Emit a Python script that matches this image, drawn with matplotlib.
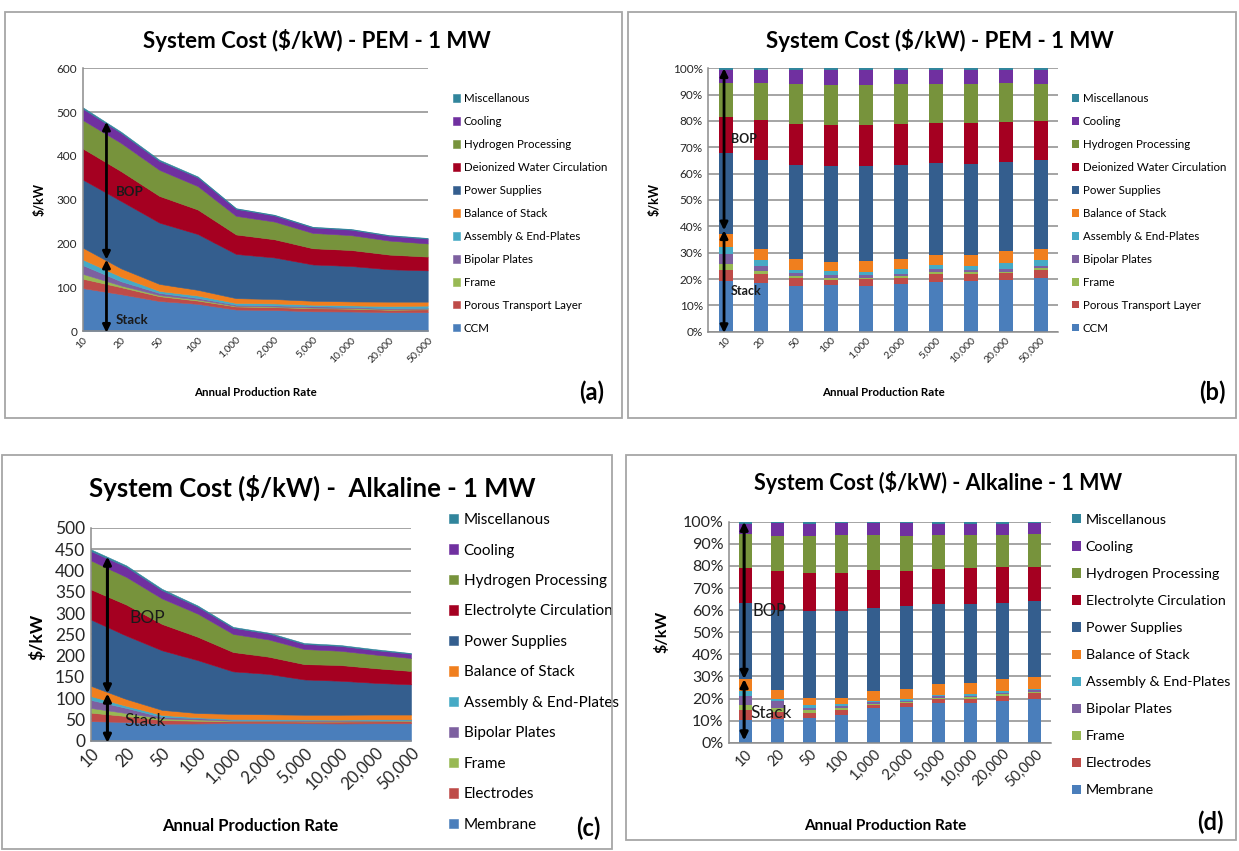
import matplotlib.pyplot as plt
import numpy as np
from matplotlib.patches import Rectangle

plt.rcParams['font.family'] = ['Lato', 'DejaVu Sans']

rates = ['10', '20', '50', '100', '1,000', '2,000', '5,000', '10,000', '20,000', '50,000']

pem_names = ['CCM', 'Porous Transport Layer', 'Frame', 'Bipolar Plates',
             'Assembly & End-Plates', 'Balance of Stack', 'Power Supplies',
             'Deionized Water Circulation', 'Hydrogen Processing', 'Cooling',
             'Miscellanous']
alk_names = ['Membrane', 'Electrodes', 'Frame', 'Bipolar Plates',
             'Assembly & End-Plates', 'Balance of Stack', 'Power Supplies',
             'Electrolyte Circulation', 'Hydrogen Processing', 'Cooling',
             'Miscellanous']

# PEM 1 MW, $/kW per component
pem_ccm = [98, 84, 68.5, 62, 49, 48, 45, 44.5, 43, 43]
pem_ptl = [21.5, 16, 11, 7.5, 7, 6.5, 7, 6.5, 5.5, 6.5]
pem_frame = [11, 4, 2.5, 2.5, 1.5, 1.5, 1.5, 1.5, 1.5, 1.5]
pem_bipolar = [20, 9.5, 5, 3.5, 2.5, 2.5, 3, 2.5, 2, 2]
pem_assembly = [13, 10.5, 4.5, 5.5, 4, 4.5, 3.5, 3.5, 5, 5]
pem_bos = [27, 19, 16, 13, 11, 10, 9, 9, 10, 9]
pem_power = [155.5, 154, 140, 127.5, 101, 95, 83, 81, 74, 71.5]
pem_water = [71, 68, 61, 56, 44.5, 41.5, 37, 36.5, 33.5, 31.5]
pem_h2 = [65, 64.5, 59.5, 53.5, 42.5, 40.5, 35, 34, 32, 30]
pem_cooling = [26, 23, 20.5, 20, 16, 14, 12.5, 12.5, 11, 11]
pem_misc = [3, 2.5, 2.5, 2, 1.5, 1.5, 1.5, 1.5, 1.5, 1.5]

# Alkaline 1 MW, $/kW per component
alk_membrane = [46, 44, 40, 40.5, 41.5, 41.5, 41, 40.5, 41, 41]
alk_electrodes = [20, 14, 8.5, 6.5, 4, 4, 4, 4.5, 4.5, 5]
alk_frame = [11, 7, 4, 3, 1.5, 1.5, 1.5, 1.5, 1.5, 1.5]
alk_bipolar = [19, 12, 3.5, 3, 2, 1.5, 1.5, 1.5, 1.5, 1.5]
alk_assembly = [9, 5, 4.5, 2, 2, 2, 2, 1.5, 2, 1.5]
alk_bos = [24, 16, 12, 10, 12, 11.5, 11, 11.5, 11, 11]
alk_power = [156, 149, 140, 124.5, 100, 95, 83, 80, 74.5, 71]
alk_electrolyte = [71, 73, 62, 55, 45.5, 40.5, 36, 37, 34.5, 31.5]
alk_h2 = [68, 65, 60, 54.5, 42.5, 40.5, 35.5, 33.5, 32, 30.5]
alk_cooling = [22, 24, 19.5, 16.5, 14.5, 14, 12, 11.5, 10.5, 10]
alk_misc = [4, 3, 3, 2.5, 2, 2, 2, 2, 2, 1.5]

pem = [pem_ccm, pem_ptl, pem_frame, pem_bipolar, pem_assembly, pem_bos,
       pem_power, pem_water, pem_h2, pem_cooling, pem_misc]
alk = [alk_membrane, alk_electrodes, alk_frame, alk_bipolar, alk_assembly, alk_bos,
       alk_power, alk_electrolyte, alk_h2, alk_cooling, alk_misc]

colors = ['#4A7EBB', '#BE4B48', '#98B954', '#7D60A0', '#46AAC5', '#F07F1E',
          '#345E8E', '#A50021', '#77933C', '#7030A0', '#31859C']

W, H = 1239, 851
fig = plt.figure(figsize=(W / 100, H / 100), dpi=100)


def fx(px):
    return px / W


def fy(py):
    return 1 - py / H


def axes_at(x0, x1, ytop, ybot):
    return fig.add_axes([fx(x0), fy(ybot), fx(x1) - fx(x0), fy(ytop) - fy(ybot)])


def style(ax, ysize, xsize):
    for s in ['top', 'right']:
        ax.spines[s].set_visible(False)
    for s in ['left', 'bottom']:
        ax.spines[s].set_color('#8c8c8c')
        ax.spines[s].set_linewidth(1.1)
    ax.yaxis.grid(True, color='#8c8c8c', lw=1.1)
    ax.set_axisbelow(True)
    ax.tick_params(axis='y', length=0, labelsize=ysize, labelcolor='#262626', pad=4)
    ax.tick_params(axis='x', length=0, labelsize=xsize, labelcolor='#262626', pad=3)
    ax.set_xticks(range(len(rates)))
    ax.set_xticklabels(rates, rotation=45, ha='right', rotation_mode='anchor')


def area(ax, layers, names):
    x = np.arange(len(rates))
    polys = ax.stackplot(x, *layers, colors=colors, labels=names)
    for p, c in zip(polys, colors):
        p.set_edgecolor(c)
        p.set_linewidth(0.4)
    ax.set_xlim(0, len(rates) - 1)


def bars(ax, layers, names):
    x = np.arange(len(rates))
    data = np.array(layers, dtype=float)
    pct = data / data.sum(axis=0) * 100
    bottom = np.zeros(len(rates))
    for row, c, n in zip(pct, colors, names):
        ax.bar(x, row, 0.4, bottom=bottom, color=c, label=n)
        bottom += row
    ax.set_xlim(-0.5, len(rates) - 0.5)
    ax.set_ylim(0, 100)
    ax.set_yticks(range(0, 101, 10))
    ax.set_yticklabels([f'{v}%' for v in range(0, 101, 10)])


def legend(ax, lx, ly, size, spacing):
    h, l = ax.get_legend_handles_labels()
    ax.legend(h[::-1], l[::-1], loc='upper left', bbox_to_anchor=(fx(lx), fy(ly)),
              bbox_transform=fig.transFigure, frameon=False, fontsize=size,
              handlelength=0.6, handleheight=0.6, handletextpad=0.35,
              labelspacing=spacing, borderaxespad=0, borderpad=0)


def arrow(ax, x, y0, y1, lw):
    ax.annotate('', xy=(x, y1), xytext=(x, y0), annotation_clip=False,
                arrowprops=dict(arrowstyle='<|-|>,head_length=0.45,head_width=0.22',
                                color='black', lw=lw, shrinkA=0, shrinkB=0))


# panel frames
for x0, y0, x1, y1 in [(5, 12, 622, 418), (628, 12, 1236, 418),
                       (2, 455, 612, 849), (626, 455, 1236, 840)]:
    fig.add_artist(Rectangle((fx(x0), fy(y1)), fx(x1) - fx(x0), fy(y0) - fy(y1),
                             transform=fig.transFigure, fill=False,
                             ec='#a6a6a6', lw=1.3))

# (a) PEM stacked area
ax = axes_at(82.7, 427.7, 68.3, 331)
area(ax, pem, pem_names)
ax.set_ylim(0, 600)
ax.set_yticks(range(0, 601, 100))
style(ax, 8.5, 7.5)
legend(ax, 453, 93, 8.3, 1.04)
arrow(ax, 0.62, 163, 478, 2)
arrow(ax, 0.62, -4, 163, 2)
ax.text(0.87, 318, 'BOP', fontsize=9.5, fontweight='bold', color='#1a1a1a', va='center')
ax.text(0.87, 25, 'Stack', fontsize=9.5, fontweight='bold', color='#1a1a1a', va='center')

# (b) PEM 100% stacked bars
ax = axes_at(708.3, 1058, 68.3, 331.7)
bars(ax, pem, pem_names)
style(ax, 8.5, 7.5)
legend(ax, 1072, 93, 8.3, 1.04)
arrow(ax, -0.05, 38.5, 100, 2)
arrow(ax, -0.05, -0.5, 38.5, 2)
ax.text(0.15, 73, 'BOP', fontsize=9, fontweight='bold', color='#1a1a1a', va='center')
ax.text(0.15, 15.5, 'Stack', fontsize=9, fontweight='bold', color='#1a1a1a', va='center')

# (c) Alkaline stacked area
ax = axes_at(90.7, 411, 528, 740.7)
area(ax, alk, alk_names)
ax.set_ylim(0, 500)
ax.set_yticks(range(0, 501, 50))
style(ax, 12.5, 12)
legend(ax, 449, 513, 11, 1.08)
arrow(ax, 0.47, 111, 433, 2.2)
arrow(ax, 0.47, -5, 111, 2.2)
ax.text(1.1, 288, 'BOP', fontsize=12.5, color='#1a1a1a', va='center')
ax.text(0.94, 46, 'Stack', fontsize=12.5, color='#1a1a1a', va='center')

# (d) Alkaline 100% stacked bars
ax = axes_at(729, 1051, 521.7, 742.7)
bars(ax, alk, alk_names)
style(ax, 11.5, 10.5)
legend(ax, 1072, 514, 10.3, 1.05)
arrow(ax, -0.03, 28.8, 100, 2.2)
arrow(ax, -0.03, 1, 28.8, 2.2)
ax.text(0.22, 59.5, 'BOP', fontsize=12, color='#1a1a1a', va='center')
ax.text(0.16, 13.6, 'Stack', fontsize=12.5, color='#1a1a1a', va='center')

# titles and axis labels
fig.text(fx(317), fy(40), 'System Cost ($/kW) - PEM - 1 MW', fontsize=16,
         fontweight='bold', ha='center', va='center')
fig.text(fx(940), fy(40), 'System Cost ($/kW) - PEM - 1 MW', fontsize=16,
         fontweight='bold', ha='center', va='center')
fig.text(fx(312), fy(488), 'System Cost ($/kW) -  Alkaline - 1 MW', fontsize=18.5,
         fontweight='bold', ha='center', va='center')
fig.text(fx(938), fy(483), 'System Cost ($/kW) - Alkaline - 1 MW', fontsize=15.5,
         fontweight='bold', ha='center', va='center')

for x, y, s in [(40, 200, 9), (655, 200, 9), (37, 637, 12.6), (662, 632, 11.5)]:
    fig.text(fx(x), fy(y), '$/kW', fontsize=s, fontweight='bold', rotation=90,
             ha='center', va='center')

for x, y, s in [(255, 392, 8.3), (883, 392, 8.3), (250, 826, 12), (885, 826, 11)]:
    fig.text(fx(x), fy(y), 'Annual Production Rate', fontsize=s, fontweight='bold',
             ha='center', va='center')

for x, y, t in [(592, 392, '(a)'), (1212, 392, '(b)'), (588, 828, '(c)'), (1210, 822, '(d)')]:
    fig.text(fx(x), fy(y), t, fontsize=17, fontweight='bold', ha='center', va='center')

fig.savefig('out.png', dpi=100)
